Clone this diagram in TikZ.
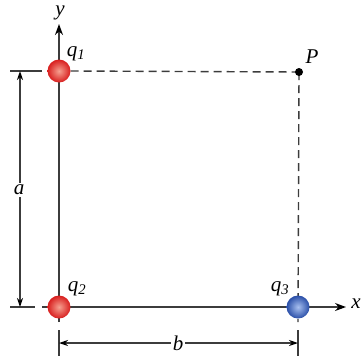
\documentclass[tikz,border=0pt]{standalone}
\usepackage{fontspec}
\setmainfont{Liberation Serif}
\usetikzlibrary{arrows.meta,backgrounds}
\definecolor{lc}{HTML}{3C3C3C}
\definecolor{redc}{HTML}{D81E1E}
\definecolor{redin}{HTML}{F6A090}
\definecolor{bluec}{HTML}{2A4FA8}
\definecolor{bluein}{HTML}{A8C0F0}
\begin{document}
\begin{tikzpicture}[x=1pt,y=-1pt,
  ln/.style={draw=lc,line width=1.4pt},
  dsh/.style={draw=lc,line width=1.4pt,dash pattern=on 8pt off 5pt},
  ar/.style={-{Stealth[length=11pt,width=8pt,black]}},
  dimar/.style={{Stealth[length=9pt,width=6pt,black]}-{Stealth[length=9pt,width=6pt,black]}},
  charge/.style={circle,minimum size=23pt,inner sep=0pt,shading=radial},
  lbl/.style={font=\fontsize{21}{23}\selectfont\itshape,inner sep=1pt},
  dotp/.style={circle,fill=black,minimum size=8pt,inner sep=0pt}]
\useasboundingbox (0,0) rectangle (363,360);
% nodes
\node[charge,inner color=redin,outer color=redc] (q1) at (59,71) {};
\node[charge,inner color=redin,outer color=redc] (q2) at (59,307) {};
\node[charge,inner color=bluein,outer color=bluec] (q3) at (298,307) {};
\node[dotp] (P) at (299,72) {};
\node[lbl] (ql1) at (76,54) {q\textsubscript{1}};
\node[lbl] (ql2) at (77,289) {q\textsubscript{2}};
\node[lbl] (ql3) at (280,289) {q\textsubscript{3}};
\node[lbl] (Pl) at (312,57) {P};
\node[lbl] (yl) at (60,13) {y};
\node[lbl] (xl) at (356,304) {x};
% coordinates
\coordinate (ytop) at (59,24);
\coordinate (ybot) at (59,322);
\coordinate (xst) at (42,307);
\coordinate (xend) at (346,307);
\coordinate (pbot) at (298,322);
\coordinate (ea1) at (10,71);
\coordinate (ea2) at (42,71);
\coordinate (eb1) at (10,307);
\coordinate (eb2) at (35,307);
\coordinate (da1) at (20,71);
\coordinate (da2) at (20,307);
\coordinate (eL1) at (59,330);
\coordinate (eL2) at (59,356);
\coordinate (eR1) at (298,330);
\coordinate (eR2) at (298,356);
\coordinate (db1) at (59,343);
\coordinate (db2) at (298,343);
\begin{scope}[on background layer]
\draw[ln,ar] (ybot) -- (ytop);
\draw[ln,ar] (xst) -- (xend);
\draw[dsh] (q1.east) -- (P.center);
\draw[dsh] (P.center) -- (pbot);
\draw[ln] (ea1) -- (ea2);
\draw[ln] (eb1) -- (eb2);
\draw[ln] (eL1) -- (eL2);
\draw[ln] (eR1) -- (eR2);
\draw[ln,dimar] (da1) -- (da2);
\draw[ln,dimar] (db1) -- (db2);
\end{scope}
\node[lbl,fill=white,inner sep=2pt] (al) at (19,190) {a};
\node[lbl,fill=white,inner sep=2pt] (bl) at (178,343) {b};
\end{tikzpicture}
\end{document}
